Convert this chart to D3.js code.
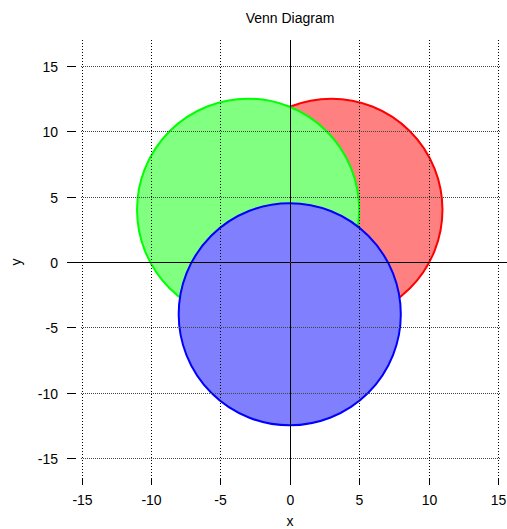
<!DOCTYPE html>
<html><head><meta charset="utf-8">
<script src="https://cdn.jsdelivr.net/npm/d3@7"></script>
<style>body{margin:0;background:#fff}svg{display:block;font-family:"Liberation Sans",Arial,sans-serif}</style>
</head><body><svg id="c" width="507" height="529"></svg>
<script>
const setNames = ["A", "B", "C"];
const centerX = [3, -3, 0];
const centerY = [4, 4, -4];
const radius = [8, 8, 8];
const strokeColors = ["#ff0000", "#00ff00", "#0000ff"];
const fillColors = ["#ff8080", "#80ff80", "#8080ff"];
const tickValues = [-15, -10, -5, 0, 5, 10, 15];

const svg = d3.select("#c");
const x = d3.scaleLinear().domain([-15, 15]).range([81.5, 498]);
const y = d3.scaleLinear().domain([-15, 15]).range([458, 66]);
const gTop = 40, gBottom = 477, gLeft = 81, gRight = 500;

// circles
const circ = svg.append("g");
setNames.forEach((n, i) => {
  circ.append("circle")
    .attr("cx", x(centerX[i])).attr("cy", y(centerY[i]))
    .attr("r", x(radius[i]) - x(0))
    .attr("fill", fillColors[i]).attr("stroke", strokeColors[i]).attr("stroke-width", 2);
});

// grid (drawn on top)
const grid = svg.append("g").attr("stroke", "#000").attr("stroke-width", 1).attr("stroke-dasharray", "1,2");
tickValues.filter(d => d !== 0).forEach(v => {
  grid.append("line").attr("x1", Math.round(x(v)) + 0.5).attr("x2", Math.round(x(v)) + 0.5).attr("y1", gTop).attr("y2", gBottom);
  grid.append("line").attr("y1", Math.round(y(v)) + 0.5).attr("y2", Math.round(y(v)) + 0.5).attr("x1", gLeft).attr("x2", gRight).attr("stroke", "#444").attr("stroke-dasharray", "1,1");
});

// zero axes
svg.append("line").attr("x1", Math.round(x(0)) + 0.5).attr("x2", Math.round(x(0)) + 0.5).attr("y1", gTop).attr("y2", 485).attr("stroke", "#000").attr("stroke-width", 1);
svg.append("line").attr("x1", 67).attr("x2", 507).attr("y1", Math.round(y(0)) + 0.5).attr("y2", Math.round(y(0)) + 0.5).attr("stroke", "#000").attr("stroke-width", 1);
svg.append("rect").attr("x", Math.round(x(0))).attr("y", Math.round(y(0))).attr("width", 1).attr("height", 1).attr("fill", "#ff0000");

// ticks
const ax = svg.append("g").attr("fill", "#000").attr("font-size", 14);
tickValues.forEach(v => {
  const yy = Math.round(y(v)) + 0.5;
  ax.append("line").attr("x1", 67).attr("x2", 76).attr("y1", yy).attr("y2", yy).attr("stroke", "#000");
  ax.append("text").attr("x", 58).attr("y", yy + 5).attr("text-anchor", "end").text(v);
  const xx = Math.round(x(v)) + 0.5;
  ax.append("line").attr("x1", xx).attr("x2", xx).attr("y1", 478).attr("y2", 485).attr("stroke", "#000");
  ax.append("text").attr("x", xx).attr("y", 505).attr("text-anchor", "middle").text(v);
});

svg.append("text").attr("x", 290).attr("y", 23).attr("text-anchor", "middle").attr("font-size", 14).text("Venn Diagram");
svg.append("text").attr("x", 290).attr("y", 526).attr("text-anchor", "middle").attr("font-size", 14).text("x");
svg.append("text").attr("transform", "translate(21,262) rotate(-90)").attr("text-anchor", "middle").attr("font-size", 14).text("y");
</script></body></html>
